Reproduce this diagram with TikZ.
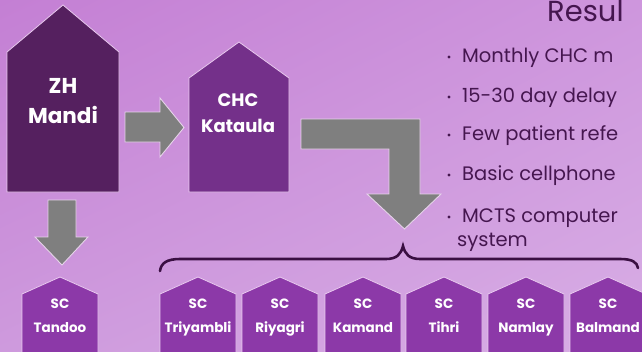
\documentclass[tikz,border=0pt]{standalone}
\usepackage{fontspec}
\setmainfont{Poppins}
\usetikzlibrary{shadings}
\definecolor{bgUL}{HTML}{C47FD4}
\definecolor{bgUR}{HTML}{CE96DD}
\definecolor{bgLL}{HTML}{CE9ADD}
\definecolor{bgLR}{HTML}{D8AEE5}
\definecolor{zhC}{HTML}{55205F}
\definecolor{chcC}{HTML}{74308A}
\definecolor{scC}{HTML}{8C39A8}
\definecolor{arrowC}{HTML}{7F7F7F}
\definecolor{arrowLine}{HTML}{E6D3EA}
\definecolor{lineC}{HTML}{E9C9EF}
\definecolor{textC}{HTML}{45164F}
\definecolor{braceC}{HTML}{3A0F42}
\newcommand\myhouse[6]{% left, right, tip y, shoulder y, bottom y, fill
  \draw[housebox, fill=#6] (#1,#5) -- (#1,#4) -- ({(#1+#2)/2},#3) -- (#2,#4) -- (#2,#5) -- cycle;}
\begin{document}
\begin{tikzpicture}[x=1pt,y=-1pt,
  housebox/.style={draw=lineC, line width=0.8pt},
  blockarrow/.style={fill=arrowC, draw=arrowLine, line width=0.9pt, line join=miter},
  biglbl/.style={text=white, font=\bfseries\fontsize{21.5}{30}\selectfont, anchor=base, inner sep=0},
  midlbl/.style={text=white, font=\bfseries\fontsize{18}{25.5}\selectfont, anchor=base, inner sep=0},
  sclbl/.style={text=white, font=\bfseries\fontsize{13.5}{24}\selectfont, anchor=base, inner sep=0},
  bul/.style={text=textC, font=\fontsize{19.5}{24}\selectfont, anchor=base west, inner sep=0},
  bdot/.style={fill=textC},
  bracestyle/.style={draw=braceC, line width=2.6pt, line cap=round},
]
\useasboundingbox (0,0) rectangle (642,351);
\clip (0,0) rectangle (642,351);
\shade[upper left=bgUL, upper right=bgUR, lower left=bgLL, lower right=bgLR] (0,0) rectangle (642,351);

% houses
\myhouse{7}{119}{5}{52}{192}{zhC}
\node[biglbl] (zh-a) at (63,93) {ZH};
\node[biglbl] (zh) at (63,123) {Mandi};
\myhouse{189}{289}{42}{78}{192}{chcC}
\node[midlbl] (chc-a) at (238,106) {CHC};
\node[midlbl] (chc) at (238,132) {Kataula};

\foreach \cx/\nm/\lab in {60/tandoo/Tandoo, 198/triyambli/Triyambli, 280/riyagri/Riyagri, 363/kamand/Kamand, 444/tihri/Tihri, 526/namlay/Namlay, 608/balmand/Balmand}{
  \myhouse{\cx-38}{\cx+38}{277}{294}{360}{scC}
  \node[sclbl] (\nm-a) at (\cx,308) {SC};
  \node[sclbl] (\nm) at (\cx,332) {\lab};
}

% block arrows
\draw[blockarrow] (125,112) -- (160,112) -- (160,98) -- (184,127.5) -- (160,157) -- (160,142) -- (125,142) -- cycle;
\draw[blockarrow] (48,200) -- (76,200) -- (76,237) -- (88,237) -- (62,265) -- (35,237) -- (48,237) -- cycle;
\draw[blockarrow] (301,119) -- (420,119) -- (420,194) -- (441,194) -- (404.5,229) -- (367,194) -- (389,194) -- (389,149) -- (301,149) -- cycle;

% brace
\draw[bracestyle] (160,271) .. controls (161,263) and (167,259) .. (180,259) -- (386,259) .. controls (397,259) and (401,254) .. (403,246) .. controls (405,254) and (409,259) .. (420,259) -- (620,259) .. controls (632,259) and (637,262) .. (638,268);

% right text
\node[text=textC, font=\fontsize{29}{32}\selectfont, anchor=base west, inner sep=0] (title) at (547,21) {Resul};
\node[bul] (b1) at (462,62) {Monthly CHC m};
\node[bul] (b2) at (462,102) {15-30 day delay};
\node[bul] (b3) at (462,140) {Few patient refe};
\node[bul] (b4) at (462,180) {Basic cellphone};
\node[bul] (b5) at (462,222) {MCTS computer};
\node[bul] (b6) at (457,246) {system};
\foreach \yy in {57,97,135,175,217}{\fill[bdot] (449,\yy) circle (1.7);}
\end{tikzpicture}
\end{document}
